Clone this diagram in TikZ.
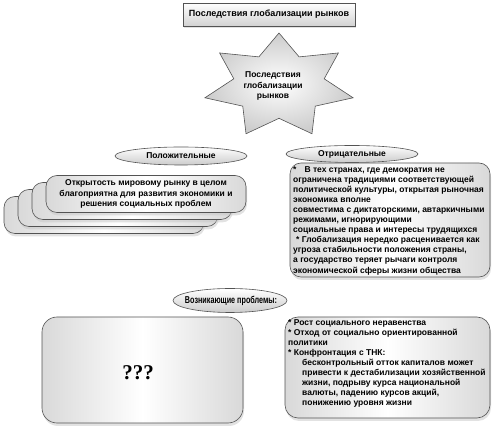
\documentclass[tikz,border=0pt]{standalone}
\usepackage{fontspec}
\setmainfont{Liberation Sans}
\newfontfamily\qfont{Liberation Serif}
\usetikzlibrary{shapes.geometric}
\usetikzlibrary{shadows}

\tikzset{
	box/.style={draw=gray!65!black,line width=0.6pt,rounded corners=11pt,
		left color=gray!30,right color=gray!30,middle color=white,
		drop shadow={shadow xshift=1pt,shadow yshift=-3pt,fill=gray!45,opacity=.5}},
	oval/.style={ellipse,draw=gray!65!black,line width=0.6pt,inner sep=0pt,
		top color=white,bottom color=gray!40,font=\fontsize{8.5}{10}\selectfont\bfseries},
	txt/.style={inner sep=0pt,align=left,font=\fontsize{8.5}{10.1}\selectfont\bfseries},
}

\begin{document}
\begin{tikzpicture}[x=1pt,y=1pt]
	\useasboundingbox (0,0) rectangle (492,433);
	% title
	\node[draw=gray!65!black,line width=0.6pt,top color=white,bottom color=gray!35,
		minimum width=172pt,minimum height=23pt,font=\fontsize{9}{11}\selectfont\bfseries,
		drop shadow={shadow xshift=1pt,shadow yshift=-2pt,fill=gray!45,opacity=.5}]
		(title) at (269,418.5) {Последствия глобализации рынков};
	% star
	\draw[shift={(279,347)},draw=gray!65!black,line width=0.6pt,inner color=white,outer color=gray!40]
		(90:76 and 53) \foreach \i in {1,...,13} {
			-- ({90+\i*360/14}:{76*(1-0.39*mod(\i,2))} and {53*(1-0.39*mod(\i,2))})
		} -- cycle;
	\node[txt,align=center] (startext) at (273,347) {Последствия\\глобализации\\рынков};
	% positive
	\node[oval,minimum width=132pt,minimum height=18pt] (pos) at (181,277) {Положительные};
	\foreach \k in {3,2,1}
		\node[box,minimum width=200pt,minimum height=37pt] (pos\k) at ({146-14*\k},{239-7*\k}) {};
	\node[box,txt,align=center,minimum width=200pt,minimum height=37pt] (posbox) at (146,239)
		{Открытость мировому рынку в целом\\благоприятна для развития экономики и\\решения социальных проблем};
	% negative
	\node[oval,minimum width=132pt,minimum height=17pt] (neg) at (352,279) {Отрицательные};
	\node[box,minimum width=200pt,minimum height=114pt] (negbox) at (390,213) {};
	\node[txt,anchor=north west] (negtext) at (293,267) {%
		*\hspace{8pt}В тех странах, где демократия не\\
		ограничена традициями соответствующей\\
		политической культуры, открытая рыночная\\
		экономика вполне\\
		совместима с диктаторскими, автаркичными\\
		режимами, игнорирующими\\
		социальные права и интересы трудящихся\\
		\hspace*{3pt}* Глобализация нередко расценивается как\\
		угроза стабильности положения страны,\\
		а государство теряет рычаги контроля\\
		экономической сферы жизни общества};
	% problems
	\draw[draw=gray!65!black,line width=0.6pt,top color=white,bottom color=gray!40]
		(230,132.5) ellipse [x radius=57,y radius=12];
	\node[font=\fontsize{9.5}{11}\selectfont\bfseries] (prob) at (231,132.5)
		{\scalebox{0.76}[1.05]{Возникающие проблемы:}};
	\node[box,rounded corners=15pt,minimum width=201pt,minimum height=106pt] (qbox) at (142.5,63) {};
	\node[font=\qfont\bfseries\fontsize{21}{24}\selectfont] (qmarks) at (138,60) {???};
	\node[box,rounded corners=13pt,minimum width=205pt,minimum height=101pt] (probbox) at (387.5,65.5) {};
	\node[txt,anchor=north west] (probtext) at (288,114) {%
		* Рост социального неравенства\\
		* Отход от социально ориентированной\\
		политики\\
		* Конфронтация с ТНК:\\
		\hspace*{14pt}бесконтрольный отток капиталов может\\
		\hspace*{14pt}привести к дестабилизации хозяйственной\\
		\hspace*{14pt}жизни, подрыву курса национальной\\
		\hspace*{14pt}валюты, падению курсов акций,\\
		\hspace*{14pt}понижению уровня жизни};
\end{tikzpicture}
\end{document}
